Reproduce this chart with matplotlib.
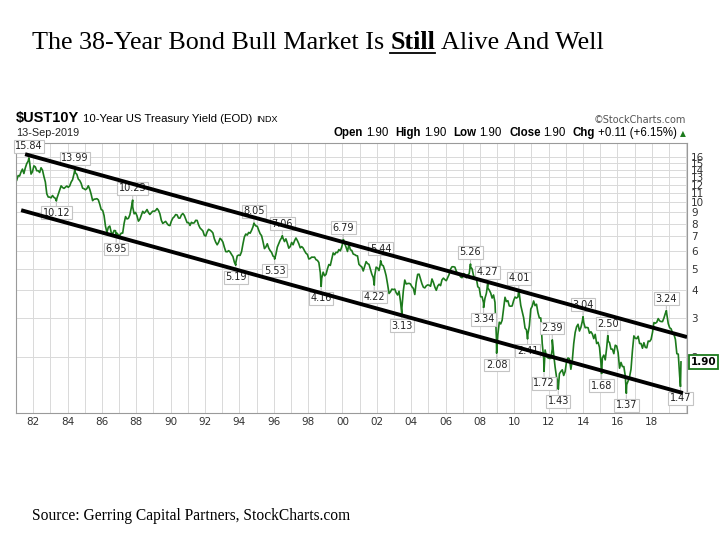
import matplotlib
matplotlib.use('Agg')
import matplotlib.pyplot as plt
from matplotlib.lines import Line2D
from matplotlib.ticker import FixedLocator, NullLocator, FixedFormatter

# Monthly 10-year yield, Jan 1981 .. Aug 2019
monthly_yield = [
    12.57, 13.19, 13.12, 13.68, 14.10, 13.47, 14.28, 14.94, 15.32, 15.15, 13.39, 13.72,  # 1981
    14.59, 14.43, 13.86, 13.87, 13.62, 14.30, 13.95, 13.06, 12.34, 10.91, 10.55, 10.54,  # 1982
    10.46, 10.72, 10.51, 10.40, 10.38, 10.85, 11.38, 11.85, 11.65, 11.54, 11.69, 11.83,  # 1983
    11.67, 11.84, 12.32, 12.63, 13.41, 13.56, 13.36, 12.72, 12.52, 12.16, 11.57, 11.50,  # 1984
    11.38, 11.51, 11.86, 11.43, 10.85, 10.16, 10.31, 10.33, 10.37, 10.24, 9.78, 9.26,    # 1985
    9.19, 8.70, 7.78, 7.30, 7.71, 7.80, 7.30, 7.17, 7.45, 7.43, 7.25, 7.11,              # 1986
    7.08, 7.25, 7.25, 8.02, 8.61, 8.40, 8.45, 8.76, 9.42, 9.52, 8.86, 8.99,              # 1987
    8.67, 8.21, 8.37, 8.72, 9.09, 8.92, 9.06, 9.26, 8.98, 8.80, 8.96, 9.11,              # 1988
    9.09, 9.17, 9.36, 9.18, 8.86, 8.28, 8.02, 8.11, 8.19, 8.01, 7.87, 7.84,              # 1989
    8.21, 8.47, 8.59, 8.79, 8.76, 8.48, 8.47, 8.75, 8.89, 8.72, 8.39, 8.08,              # 1990
    8.09, 7.85, 8.11, 8.04, 8.07, 8.28, 8.27, 7.90, 7.65, 7.53, 7.42, 7.09,              # 1991
    7.03, 7.34, 7.54, 7.48, 7.39, 7.26, 6.84, 6.59, 6.42, 6.59, 6.87, 6.77,              # 1992
    6.60, 6.26, 5.98, 5.97, 6.04, 5.96, 5.81, 5.68, 5.36, 5.33, 5.72, 5.77,              # 1993
    5.75, 5.97, 6.48, 6.97, 7.18, 7.10, 7.30, 7.24, 7.46, 7.74, 7.96, 7.81,              # 1994
    7.78, 7.47, 7.20, 7.06, 6.63, 6.17, 6.28, 6.49, 6.20, 6.04, 5.93, 5.71,              # 1995
    5.65, 5.81, 6.27, 6.51, 6.74, 6.91, 6.87, 6.64, 6.83, 6.53, 6.20, 6.30,              # 1996
    6.58, 6.42, 6.69, 6.89, 6.71, 6.49, 6.22, 6.30, 6.21, 6.03, 5.88, 5.81,              # 1997
    5.54, 5.57, 5.65, 5.64, 5.65, 5.50, 5.46, 5.34, 4.81, 4.53, 4.83, 4.65,              # 1998
    4.72, 5.00, 5.23, 5.18, 5.54, 5.90, 5.79, 5.94, 5.92, 6.11, 6.03, 6.28,              # 1999
    6.66, 6.52, 6.26, 5.99, 6.44, 6.10, 6.05, 5.83, 5.80, 5.74, 5.72, 5.24,              # 2000
    5.16, 5.10, 4.89, 5.14, 5.39, 5.28, 5.24, 4.97, 4.73, 4.57, 4.65, 5.09,              # 2001
    5.04, 4.91, 5.28, 5.21, 5.16, 4.93, 4.65, 4.26, 3.87, 3.94, 4.05, 4.03,              # 2002
    4.05, 3.90, 3.81, 3.96, 3.57, 3.33, 3.98, 4.45, 4.27, 4.29, 4.30, 4.27,              # 2003
    4.15, 4.08, 3.83, 4.35, 4.72, 4.73, 4.50, 4.28, 4.13, 4.10, 4.19, 4.23,              # 2004
    4.22, 4.17, 4.50, 4.34, 4.14, 4.00, 4.18, 4.26, 4.20, 4.46, 4.54, 4.47,              # 2005
    4.42, 4.57, 4.72, 4.99, 5.11, 5.11, 5.09, 4.88, 4.72, 4.73, 4.60, 4.56,              # 2006
    4.76, 4.72, 4.56, 4.69, 4.75, 5.10, 5.00, 4.67, 4.52, 4.53, 4.15, 4.10,              # 2007
    3.74, 3.74, 3.51, 3.68, 3.88, 4.10, 4.01, 3.89, 3.69, 3.81, 3.53, 2.42,              # 2008
    2.52, 2.87, 2.82, 2.93, 3.29, 3.72, 3.56, 3.59, 3.40, 3.39, 3.40, 3.59,              # 2009
    3.73, 3.69, 3.73, 3.85, 3.42, 3.20, 3.01, 2.70, 2.65, 2.54, 2.76, 3.29,              # 2010
    3.39, 3.58, 3.41, 3.46, 3.17, 3.00, 3.00, 2.30, 1.98, 2.15, 2.01, 1.98,              # 2011
    1.97, 1.97, 2.17, 2.05, 1.80, 1.62, 1.53, 1.68, 1.72, 1.75, 1.65, 1.72,              # 2012
    1.91, 1.98, 1.96, 1.76, 1.93, 2.30, 2.58, 2.74, 2.81, 2.62, 2.72, 2.90,              # 2013
    2.86, 2.71, 2.72, 2.71, 2.56, 2.60, 2.54, 2.42, 2.53, 2.30, 2.33, 2.21,              # 2014
    1.88, 1.98, 2.04, 1.94, 2.20, 2.36, 2.32, 2.17, 2.17, 2.07, 2.26, 2.24,              # 2015
    2.09, 1.78, 1.89, 1.81, 1.81, 1.64, 1.50, 1.56, 1.63, 1.76, 2.14, 2.49,              # 2016
    2.43, 2.42, 2.48, 2.30, 2.30, 2.19, 2.32, 2.21, 2.20, 2.36, 2.35, 2.40,              # 2017
    2.58, 2.86, 2.84, 2.87, 2.98, 2.91, 2.89, 2.89, 3.00, 3.15, 3.12, 2.83,              # 2018
    2.71, 2.68, 2.57, 2.53, 2.40, 2.07, 2.06, 1.63,                                      # 2019
]
start_year = 1981

# labelled highs / lows on the chart
swing_dates = [1981.75, 1983.35, 1984.42, 1986.83, 1987.79, 1993.79, 1994.85, 1996.05,
               1996.50, 1998.76, 2000.05, 2001.85, 2002.22, 2003.45, 2007.45, 2008.21,
               2008.45, 2008.97, 2010.26, 2010.77, 2011.73, 2012.21, 2012.56, 2014.00,
               2015.08, 2015.44, 2016.52, 2018.85, 2019.67]
swing_values = [15.84, 10.12, 13.99, 6.95, 10.23, 5.19, 8.05, 5.53,
                7.06, 4.16, 6.79, 4.22, 5.44, 3.13, 5.26, 3.34,
                4.27, 2.08, 4.01, 2.41, 1.72, 2.39, 1.43, 3.04,
                1.68, 2.50, 1.37, 3.24, 1.47]
swing_kind = ['H', 'L', 'H', 'L', 'H', 'L', 'H', 'L',
              'H', 'L', 'H', 'L', 'H', 'L', 'H', 'L',
              'H', 'L', 'H', 'L', 'L', 'H', 'L', 'H',
              'L', 'H', 'L', 'H', 'L']

last_date = 2019.70
last_value = 1.90

# hand-drawn channel lines (year, yield)
upper_x = [1981.53, 2020.05]
upper_y = [16.47, 2.46]
lower_x = [1981.30, 2019.81]
lower_y = [9.20, 1.375]

y_ticks = [2, 3, 4, 5, 6, 7, 8, 9, 10, 11, 12, 13, 14, 15, 16]
x_label_years = list(range(1982, 2019, 2))

# build the series
dates = [start_year + (i + 0.5) / 12 for i in range(len(monthly_yield))]
pts = sorted(list(zip(dates, monthly_yield)) + list(zip(swing_dates, swing_values))
             + [(last_date, last_value)])
xs = [p[0] for p in pts]
ys = [p[1] for p in pts]

W, H = 720, 540
fig = plt.figure(figsize=(7.2, 5.4), dpi=100)
ax = fig.add_axes([16 / W, 1 - 413 / H, (687 - 16) / W, (413 - 143) / H])

green = '#1c7a1c'
ax.plot(xs, ys, color=green, lw=1.2, zorder=2)
ax.plot(upper_x, upper_y, color='black', lw=2.8, solid_capstyle='butt', zorder=4)
ax.plot(lower_x, lower_y, color='black', lw=2.8, solid_capstyle='butt', zorder=4)

ax.set_yscale('log')
ax.set_xlim(1981.01, 2020.05)
ax.set_ylim(1.117, 18.5)

ax.yaxis.tick_right()
ax.yaxis.set_major_locator(FixedLocator(y_ticks))
ax.yaxis.set_major_formatter(FixedFormatter([str(v) for v in y_ticks]))
ax.yaxis.set_minor_locator(NullLocator())
ax.set_xticks(x_label_years)
ax.set_xticklabels([f"{y % 100:02d}" for y in x_label_years])
ax.set_xticks(range(1981, 2021), minor=True)
ax.tick_params(axis='both', which='both', length=0, labelsize=7.5, labelcolor='#333333')
ax.tick_params(axis='x', pad=3)
ax.tick_params(axis='y', pad=3)
ax.grid(True, which='both', axis='x', color='#d9d9d9', lw=0.7, zorder=0)
ax.grid(True, which='major', axis='y', color='#d9d9d9', lw=0.7, zorder=0)
ax.set_axisbelow(True)
for s in ax.spines.values():
    s.set_color('#9a9a9a')
    s.set_linewidth(0.8)

# high / low value tags
for d, v, k in zip(swing_dates, swing_values, swing_kind):
    off = 8.5 if k == 'H' else -8.5
    ax.annotate(f"{v:.2f}", xy=(d, v), xytext=(0, off), textcoords='offset points',
                ha='center', va='center', fontsize=7, color='#222222', zorder=3,
                bbox=dict(boxstyle='square,pad=0.15', fc='white', ec='#c4c4c4', lw=0.8),
                arrowprops=dict(arrowstyle='-', color='#c4c4c4', lw=0.8,
                                shrinkA=0, shrinkB=1))

ax.annotate(f"{last_value:.2f}", xy=(last_date, last_value), xytext=(7, 0),
            textcoords='offset points', ha='left', va='center', fontsize=7.5,
            fontweight='bold', annotation_clip=False, zorder=5,
            bbox=dict(boxstyle='square,pad=0.2', fc='white', ec=green, lw=1.3))

renderer = fig.canvas.get_renderer()


def put_row(pieces, x_px, y_px, align='left'):
    """pieces: (text, gap_after_px, text kwargs)"""
    objs = []
    x = x_px
    for txt, gap, kw in pieces:
        t = fig.text(x / W, 1 - y_px / H, txt, ha='left', va='baseline', **kw)
        objs.append(t)
        x += t.get_window_extent(renderer).width + gap
    total = x - x_px - pieces[-1][1]
    if align == 'right':
        for t in objs:
            t.set_x(t.get_position()[0] - total / W)
    return objs, total


# title, fitted to its width in the reference
serif = 'Liberation Serif'
title_pieces = [("The 38-Year Bond Bull Market Is", 6, dict(family=serif)),
                ("Still", 6, dict(family=serif, fontweight='bold')),
                ("Alive And Well", 0, dict(family=serif))]
size = 20
objs, total = put_row([(t, g, dict(kw, fontsize=size)) for t, g, kw in title_pieces], 32, 49)
for o in objs:
    o.remove()
size = size * 571 / total
objs, total = put_row([(t, g, dict(kw, fontsize=size)) for t, g, kw in title_pieces], 32, 49)
bb = objs[1].get_window_extent(renderer)
fig.add_artist(Line2D([bb.x0 / W, bb.x1 / W], [(540 - 52.5) / H, (540 - 52.5) / H],
                      color='black', lw=1.3))

# StockCharts header
sans = 'Liberation Sans'
put_row([("$UST10Y", 4, dict(family=sans, fontsize=10.5, fontweight='bold')),
         ("10-Year US Treasury Yield (EOD)", 4, dict(family=sans, fontsize=8.2)),
         ("INDX", 0, dict(family=sans, fontsize=6.5))], 16, 122)
fig.text(16 / W, 1 - 136 / H, "13-Sep-2019", family=sans, fontsize=7.8,
         ha='left', va='baseline', color='#222222')
fig.text(686 / W, 1 - 123 / H, "\u00a9StockCharts.com", family='DejaVu Sans',
         fontsize=7, ha='right', va='baseline', color='#555555')

b = dict(family=sans, fontsize=8.3, fontweight='bold')
n = dict(family=sans, fontsize=8.3)
put_row([("Open", 3, b), ("1.90", 7, n), ("High", 3, b), ("1.90", 7, n),
         ("Low", 3, b), ("1.90", 7, n), ("Close", 3, b), ("1.90", 7, n),
         ("Chg", 3, b), ("+0.11 (+6.15%)", 3, n),
         ("\u25b2", 0, dict(family='DejaVu Sans', fontsize=5.5, color=green))],
        686, 136, align='right')

fig.text(32 / W, 1 - 520 / H, "Source: Gerring Capital Partners, StockCharts.com",
         family=serif, fontsize=11.2, ha='left', va='baseline')

fig.savefig('out.png', dpi=100)
